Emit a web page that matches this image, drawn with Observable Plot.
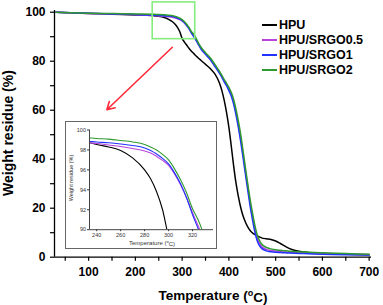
<!DOCTYPE html>
<html><head><meta charset="utf-8">
<script src="https://cdn.jsdelivr.net/npm/d3@7"></script>
<script src="https://cdn.jsdelivr.net/npm/@observablehq/plot@0.6"></script>
<style>
html,body{margin:0;padding:0;background:#fff;}
#wrap{position:relative;width:383px;height:305px;overflow:hidden;font-family:"Liberation Sans",Arial,sans-serif;}
#main{position:absolute;left:0;top:0;}
#inset{position:absolute;left:65px;top:120.5px;width:152px;height:128px;border:1px solid #666;box-sizing:border-box;background:#fff;}
#inset svg{display:block;}
#legend{position:absolute;left:262px;top:17.5px;font-weight:bold;font-size:12.5px;color:#000;}
#legend .row{height:15px;line-height:15px;display:flex;align-items:center;white-space:nowrap;}
#legend .sw{width:14.5px;height:1.6px;margin-right:2.5px;}
</style></head>
<body><div id="wrap"><div id="main"></div><div id="inset"></div><div id="legend"></div></div>
<script>
// ---- data ----
const temperature = [30,100,150,200,235,240,250,260,270,280,285,290,295,300,305,310,315,320,325,330,335,340,350,360,370,380,385,390,395,400,405,410,415,420,425,430,435,440,445,450,455,460,465,470,480,490,500,510,520,530,540,560,600,650,700];
const HPU = [100,99.5,99.2,98.9,98.7,98.55,98.3,97.95,97.2,96.0,95.1,93.8,92.0,89.3,87.8,86.5,85.2,84.1,83.1,82.1,81.2,80.4,78.7,77.0,74.8,71.0,68.0,64.0,59.0,53.0,45.5,37.5,30.5,25.0,20.5,17.0,14.5,12.5,11.0,10.0,9.3,8.8,8.3,7.9,7.5,7.2,6.6,5.6,4.5,3.5,2.8,2.1,1.5,1.2,1.0];
const SRGO05 = [100,99.5,99.25,99.0,98.7,98.65,98.5,98.35,98.15,97.9,97.7,97.35,96.95,96.45,95.6,94.5,93.2,91.7,90.3,88.7,87.0,85.4,83.1,81.0,78.2,75.4,73.8,72.0,70.4,68.6,66.5,63.5,59.3,54.4,48.9,42.5,35.9,29.3,22.8,17.1,12.1,8.2,5.8,4.4,3.2,2.7,2.4,2.2,2.1,2.0,1.9,1.8,1.5,1.25,1.1];
const SRGO1 = [100,99.55,99.3,99.1,98.85,98.8,98.72,98.6,98.45,98.2,97.95,97.6,97.15,96.6,95.7,94.6,93.2,91.5,90.0,88.4,86.7,85.1,82.8,80.7,77.9,75.0,73.4,71.6,70.0,68.0,65.8,62.6,58.3,53.2,47.5,41.0,34.4,27.8,21.4,15.8,10.8,7.0,4.8,3.6,2.6,2.2,2.0,1.9,1.8,1.7,1.6,1.5,1.2,1.0,0.9];
const SRGO2 = [100,99.6,99.45,99.3,99.2,99.15,99.08,98.95,98.8,98.55,98.3,98.0,97.55,97.0,96.1,95.0,93.7,92.1,90.9,89.3,87.4,85.8,83.5,81.4,78.7,75.8,74.2,72.5,71.0,69.3,67.3,64.5,60.5,55.8,50.4,43.8,37.0,30.3,24.0,18.5,13.5,9.5,7.0,5.4,4.0,3.4,3.0,2.8,2.6,2.45,2.3,2.1,1.8,1.5,1.2];
const seriesNames = ["HPU","HPU/SRGO0.5","HPU/SRGO1","HPU/SRGO2"];
const seriesValues = [HPU, SRGO05, SRGO1, SRGO2];
const seriesColors = ["#000000","#b844dc","#2233ff","#2f9a2f"];
const xDomain = [27, 705];
const yDomain = [0, 100.7];
const xTicks = [100,200,300,400,500,600,700];
const xMinorTicks = [50,150,250,350,450,550,650];
const yTicks = [0,20,40,60,80,100];
const yMinorTicks = [10,30,50,70,90];
const insetXDomain = [234, 337.5];
const insetYDomain = [90, 100];
const insetXTicks = [240,260,280,300,320];
const insetYTicks = [90,92,94,96,98,100];
const zoomBox = [{x1:237, x2:328, y1:89, y2:104}];
const pointer = [{x1:279, y1:85.7, x2:139, y2:60.2}];

const rows = [];
seriesNames.forEach((name,i)=>temperature.forEach((t,j)=>rows.push({series:name, T:t, W:seriesValues[i][j]})));

const font = '"Liberation Sans", Arial, sans-serif';
const main = Plot.plot({
  width: 383, height: 305,
  marginLeft: 54, marginRight: 12, marginTop: 10, marginBottom: 48.3,
  x: {domain: xDomain},
  y: {domain: yDomain},
  color: {domain: seriesNames, range: seriesColors},
  style: {fontFamily: font, fontSize: "12px", fontWeight: "bold", color: "#000", background: "transparent"},
  marks: [
    Plot.axisX({ticks: xMinorTicks, tickSize: 4, text: null, label: null, strokeWidth: 1.2}),
    Plot.axisX({ticks: xTicks, tickSize: 4, tickPadding: 6.5, label: null, strokeWidth: 1.2}),
    Plot.axisY({ticks: yMinorTicks, tickSize: 4, text: null, label: null, strokeWidth: 1.2}),
    Plot.axisY({ticks: yTicks, tickSize: 4, tickPadding: 5, label: null, strokeWidth: 1.2}),
    Plot.ruleX([xDomain[0]], {strokeWidth: 1.3}),
    Plot.ruleY([yDomain[0]], {strokeWidth: 1.3}),
    Plot.line(rows, {x: "T", y: "W", z: "series", stroke: "series", strokeWidth: 1.5, curve: "monotone-x"}),
    Plot.rect(zoomBox, {x1: "x1", x2: "x2", y1: "y1", y2: "y2", fill: "none", stroke: "#86ec80", strokeWidth: 1.6}),
    Plot.arrow(pointer, {x1: "x1", y1: "y1", x2: "x2", y2: "y2", stroke: "#ff2a3a", strokeWidth: 1.6, headLength: 8})
  ]
});
document.getElementById("main").appendChild(main);

const svg = d3.select(main);
const xt = svg.append("text").attr("x", 213).attr("y", 300).attr("text-anchor", "middle")
  .style("font-size", "13.5px").style("font-weight", "bold").style("font-family", font);
xt.append("tspan").text("Temperature (");
xt.append("tspan").text("o").attr("dy", "-0.45em").style("font-size", "9px");
xt.append("tspan").text("C)").attr("dy", "0.45em");
svg.append("text").attr("transform", "translate(12.5,133) rotate(-90)").attr("text-anchor", "middle")
  .style("font-size", "14px").style("font-weight", "bold").style("font-family", font).text("Weight residue (%)");

const inset = Plot.plot({
  width: 150, height: 126,
  marginLeft: 23, marginRight: 3, marginTop: 7.5, marginBottom: 18.8,
  x: {domain: insetXDomain},
  y: {domain: insetYDomain},
  color: {domain: seriesNames, range: seriesColors},
  style: {fontFamily: font, fontSize: "5.5px", color: "#333", background: "#fff"},
  marks: [
    Plot.line(rows, {x: "T", y: "W", z: "series", stroke: "series", strokeWidth: 1.1, curve: "monotone-x", clip: true}),
    Plot.axisX({ticks: insetXTicks, tickSize: 2, tickPadding: 1.5, label: null}),
    Plot.axisY({ticks: insetYTicks, tickSize: 2, tickPadding: 1.5, label: null}),
    Plot.ruleX([insetXDomain[0]], {stroke: "#444"}),
    Plot.ruleY([insetYDomain[0]], {stroke: "#444"})
  ]
});
document.getElementById("inset").appendChild(inset);
const isvg = d3.select(inset);
const ixt = isvg.append("text").attr("x", 86).attr("y", 123).attr("text-anchor", "middle")
  .style("font-size", "6px").style("font-family", font).attr("fill", "#333");
ixt.append("tspan").text("Temperature (");
ixt.append("tspan").text("o").attr("dy", "-0.4em").style("font-size", "4px");
ixt.append("tspan").text("C)").attr("dy", "0.4em");
isvg.append("text").attr("transform", "translate(7,56) rotate(-90)").attr("text-anchor", "middle")
  .style("font-size", "5.5px").style("font-family", font).attr("fill", "#333").text("Weight residue (%)");

const legend = d3.select("#legend");
seriesNames.forEach((n,i)=>{
  const r = legend.append("div").attr("class","row");
  r.append("div").attr("class","sw").style("background", seriesColors[i]);
  r.append("span").text(n);
});
</script></body></html>
